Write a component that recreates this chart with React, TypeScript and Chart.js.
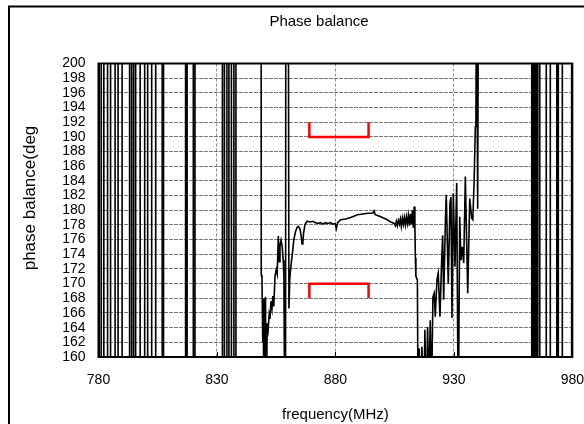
import { useEffect, useRef } from 'react';
import { Chart, registerables } from 'chart.js';

Chart.register(...registerables);

// ---- data (MHz, degrees) ----
const leftWrapFreq = [
  780, 780.30, 780.32, 781.14, 781.16, 782.24, 782.26, 783.81, 783.83, 785.08, 785.10,
  786.98, 787.00, 788.25, 788.27, 789.95, 789.97, 793.12, 793.14, 793.97, 793.99,
  794.81, 794.83, 795.66, 795.68, 797.57, 797.59, 799.47, 799.49, 800.74, 800.76,
  802.43, 802.45, 804.13, 804.15, 806.88, 806.90, 807.43, 807.45, 816.74, 816.76,
  817.38, 817.40, 820.00, 820.02, 820.72, 820.74, 832.28, 832.30, 833.12, 833.14,
  834.18, 834.20, 835.03, 835.05, 836.08, 836.10, 837.14, 837.16, 837.99, 838.01,
];
const leftWrapPhase = [
  260,
  260, 100, 100, 260, 260, 100, 100, 260, 260, 100, 100, 260,
  260, 100, 100, 260, 260, 100, 100, 260, 260, 100, 100, 260,
  260, 100, 100, 260, 260, 100, 100, 260, 260, 100, 100, 260,
  260, 100, 100, 260, 260, 100, 100, 260, 260, 100, 100, 260,
  260, 100, 100, 260, 260, 100, 100, 260, 260, 100, 100, 260,
];

const passbandFreq = [
  848.57, 848.70, 849.00, 849.33, 849.55, 849.84, 850.18, 850.48, 850.81, 851.20,
  851.62, 852.04, 852.38, 852.80, 853.23, 853.57, 853.99, 854.50, 855.01, 855.43,
  855.90, 856.28, 856.61, 857.04, 857.55, 857.97, 858.26, 858.60, 858.94, 859.15,
  859.87, 860.38, 860.76, 861.35, 861.91, 862.45, 863.17, 863.89, 864.44, 865.08,
  865.59, 865.93, 866.26, 866.56, 867.20, 868.04, 869.52, 870.37, 871.64, 872.48,
  873.76, 874.60, 875.87, 876.72, 877.99, 878.84, 879.89, 880.40, 880.95, 882.22,
  884.34, 886.45, 889.29, 891.53, 893.65, 895.77, 896.32, 896.83, 899.15, 901.27,
  903.39, 904.78, 905.29, 905.71, 906.14, 906.56, 906.98, 907.41, 907.83, 908.25,
  908.68, 909.10, 909.52, 909.95, 910.37, 910.79, 911.22, 911.64, 912.06, 912.49,
  912.91, 913.25, 913.55, 913.76, 913.97, 914.60, 914.94,
];
const passbandPhase = [
  260, 171.2, 170.8, 162.0, 168.0, 150, 160.8, 168.2, 150, 164.6,
  163.7, 165.8, 165.2, 167.6, 166.6, 168.3, 166.9, 171.0, 171.9, 171.3,
  176.5, 173.0, 175.2, 175.9, 175.0, 173.2, 171.0, 150, 150, 260,
  260, 166.6, 170.8, 172.8, 174.3, 176.0, 177.1, 177.7, 177.8, 177.4,
  176.4, 175.4, 175.6, 176.9, 178.1, 178.5, 178.4, 178.5, 178.3, 178.2,
  178.3, 178.1, 178.3, 178.2, 178.3, 178.1, 178.2, 177.5, 178.3, 178.7,
  178.8, 179.0, 179.4, 179.5, 179.6, 179.6, 179.9, 179.4, 179.1, 178.8,
  178.4, 178.2, 177.9, 178.5, 177.9, 178.6, 178.1, 178.8, 177.8, 178.9,
  178.1, 179.0, 178.0, 179.1, 178.2, 179.3, 177.9, 179.5, 178.1, 180.0,
  177.6, 180.5, 177.9, 173.5, 171.0, 170.5, 150,
];

const rightEdgeFreq = [
  915.37, 915.79, 916.51, 917.23, 917.78, 918.33, 918.92, 919.47, 920.02, 920.61,
  921.16, 921.71, 922.14, 922.86, 923.41, 924.13, 924.85, 925.27, 925.69, 926.37,
  926.79, 927.64, 928.36, 928.78, 929.21, 929.76, 930.48, 931.19, 931.87, 932.47,
  933.02, 933.57, 934.16, 934.84, 935.85, 936.70, 937.54, 938.00, 938.56, 939.07,
  939.30, 939.60, 940.05, 940.55,
];
const rightEdgePhase = [
  161.2, 152, 161.4, 152, 163.7, 152, 164.1, 155, 165.0, 155,
  168.2, 168.7, 165.5, 170.5, 171.4, 165.5, 173.2, 176.6, 167.8, 177.8,
  182.1, 170.0, 181.0, 181.8, 165.3, 182.3, 172.3, 183.7, 150, 179.1,
  173.2, 175.0, 172.8, 184.6, 168.7, 181.6, 178.9, 178.7, 184.1, 191.4,
  192.1, 215, 180.2, 230,
];

const rightWrapFreq = [
  962.86, 962.88, 963.49, 963.51, 964.13, 964.15, 964.76, 964.78, 965.40, 965.42,
  966.24, 966.26, 968.99, 969.01, 970.69, 970.71, 973.44, 973.46, 974.07, 974.09,
  975.77, 975.79, 979.70, 979.72, 980,
];
const rightWrapPhase = [
  260, 100, 100, 260, 260, 100, 100, 260, 260, 100,
  100, 260, 260, 100, 100, 260, 260, 100, 100, 260,
  260, 100, 100, 260, 260,
];

const specFreq = [869, 869, 894, 894];
const specUpperDeg = [192, 190, 190, 192];
const specLowerDeg = [168, 170, 170, 168];

const xTickValues = [780, 830, 880, 930, 980];
const yMin = 160;
const yMax = 200;
const yStep = 2;

const FONT = '"Liberation Sans", Arial, sans-serif';

const toPoints = (xs: number[], ys: number[]) => xs.map((x, i) => ({ x, y: ys[i] }));

const decorPlugin = {
  id: 'decor',
  afterDraw(chart: any) {
    const { ctx, chartArea: a } = chart;
    ctx.save();
    ctx.strokeStyle = '#000';
    ctx.lineWidth = 2;
    ctx.strokeRect(a.left, a.top, a.right - a.left, a.bottom - a.top);
    // outer chart frame (left and top edges visible)
    ctx.beginPath();
    ctx.moveTo(9, chart.height);
    ctx.lineTo(9, 6.5);
    ctx.lineTo(chart.width, 6.5);
    ctx.stroke();
    // inward major tick marks on x axis
    const xs = chart.scales.x;
    ctx.lineWidth = 1;
    ctx.beginPath();
    xs.ticks.forEach((t: any) => {
      const px = Math.round(xs.getPixelForValue(t.value)) + 0.5;
      ctx.moveTo(px, a.bottom);
      ctx.lineTo(px, a.bottom - 5);
    });
    ctx.stroke();
    // y axis title
    ctx.translate(30, 198);
    ctx.rotate(-Math.PI / 2);
    ctx.font = `17px ${FONT}`;
    ctx.fillStyle = '#000';
    ctx.textAlign = 'center';
    ctx.textBaseline = 'middle';
    ctx.fillText('phase balance(deg', 0, 0);
    ctx.restore();
  },
};

export default function App() {
  const ref = useRef<HTMLCanvasElement | null>(null);

  useEffect(() => {
    if (!ref.current) return;
    const measured = [
      ...toPoints(leftWrapFreq, leftWrapPhase),
      ...toPoints(passbandFreq, passbandPhase),
      ...toPoints(rightEdgeFreq, rightEdgePhase),
      ...toPoints(rightWrapFreq, rightWrapPhase),
    ];
    const chart = new Chart(ref.current, {
      type: 'line',
      data: {
        datasets: [
          {
            label: 'phase balance',
            data: measured,
            borderColor: '#000',
            borderWidth: 1.6,
            pointRadius: 0,
            tension: 0,
          },
          {
            label: 'upper limit',
            data: toPoints(specFreq, specUpperDeg),
            borderColor: '#ff0000',
            borderWidth: 2.5,
            pointRadius: 0,
            tension: 0,
          },
          {
            label: 'lower limit',
            data: toPoints(specFreq, specLowerDeg),
            borderColor: '#ff0000',
            borderWidth: 2.5,
            pointRadius: 0,
            tension: 0,
          },
        ],
      },
      options: {
        animation: false,
        responsive: false,
        maintainAspectRatio: false,
        layout: { padding: { left: 54, right: 0, top: 0, bottom: 0 } },
        plugins: {
          legend: { display: false },
          tooltip: { enabled: false },
          title: {
            display: true,
            text: 'Phase balance',
            color: '#000',
            font: { family: FONT, size: 15, weight: 'normal' },
            padding: { top: 13, bottom: 32.5 },
          },
        },
        scales: {
          x: {
            type: 'linear',
            min: 780,
            max: 980,
            afterBuildTicks: (s: any) => {
              s.ticks = xTickValues.map((v) => ({ value: v }));
            },
            afterFit: (s: any) => {
              s.height = 67;
            },
            ticks: {
              color: '#000',
              font: { family: FONT, size: 14 },
              padding: 0,
              maxRotation: 0,
              autoSkip: false,
            },
            grid: {
              color: '#8c8c8c',
              lineWidth: 1,
              drawTicks: true,
              tickLength: 15,
              tickColor: 'rgba(0,0,0,0)',
            },
            border: { display: false, dash: [3, 2] },
            title: {
              display: true,
              text: 'frequency(MHz)',
              color: '#000',
              font: { family: FONT, size: 15 },
              padding: { top: 0, bottom: 0 },
            },
          },
          y: {
            type: 'linear',
            min: yMin,
            max: yMax,
            afterFit: (s: any) => {
              s.width = 44.5;
            },
            ticks: {
              stepSize: yStep,
              color: '#000',
              font: { family: FONT, size: 14 },
              padding: 13,
              autoSkip: false,
            },
            grid: { color: '#777777', lineWidth: 1, drawTicks: false },
            border: { display: false, dash: [4, 1] },
          },
        },
      },
      plugins: [decorPlugin],
    });
    return () => chart.destroy();
  }, []);

  return (
    <div style={{ position: 'absolute', left: 0, top: 0, width: 584, height: 424, background: '#fff' }}>
      <canvas ref={ref} width={584} height={424} style={{ width: 584, height: 424, display: 'block' }} />
    </div>
  );
}
